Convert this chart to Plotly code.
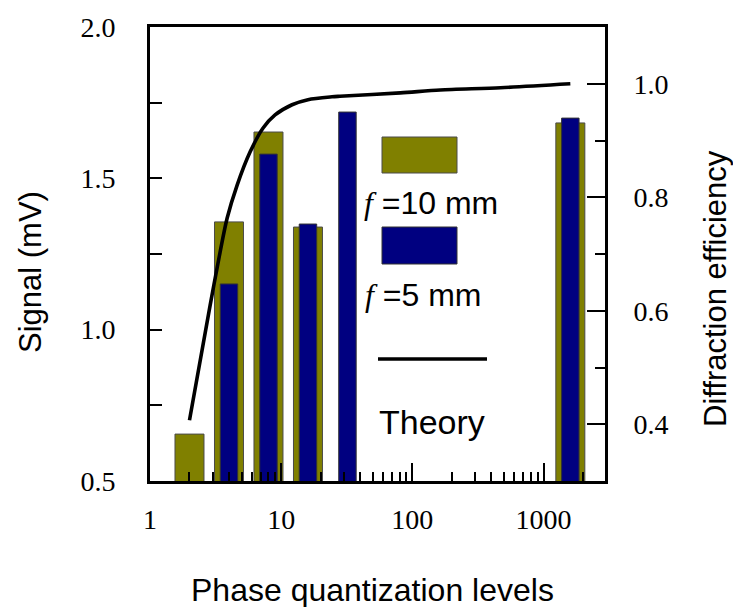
import numpy as np
import plotly.graph_objects as go

# ---------------- data ----------------
levels_10mm = [2, 4, 8, 16, 1600]
signal_10mm = [0.655, 1.356, 1.653, 1.339, 1.683]

levels_5mm = [4, 8, 16, 32, 1600]
signal_5mm = [1.151, 1.580, 1.349, 1.719, 1.699]

theory_levels = [2, 2.87, 3.42, 3.87, 4.61, 5.8, 7.28, 8.98, 12.1, 16, 24.4, 28, 81, 163, 470, 1600]
theory_eff = [0.407, 0.609, 0.703, 0.763, 0.821, 0.880, 0.922, 0.945, 0.963, 0.972, 0.977, 0.978,
              0.984, 0.989, 0.993, 1.000]

x_tickvals = [1, 10, 100, 1000]
x_ticktext = ["1", "10", "100", "1000"]
x_minor_vals = [m * 10 ** d for d in range(4) for m in range(2, 10)]
yl_tickvals = [0.5, 1.0, 1.5, 2.0]
yl_ticktext = ["0.5", "1.0", "1.5", "2.0"]
yl_minor_vals = [0.75, 1.25, 1.75]
yr_tickvals = [0.4, 0.6, 0.8, 1.0]
yr_ticktext = ["0.4", "0.6", "0.8", "1.0"]
yr_minor_vals = [0.5, 0.7, 0.9]

# ---------------- styling ----------------
OLIVE = "#808000"
NAVY = "#000080"
SERIF = "Liberation Serif"
SANS = "Liberation Sans"

# the page body adds an 8px offset; margins are chosen so the plot area lands at
# screen x 150..605 and y 27..481
OFF = 8
W, H = 741, 607
X0, X1, Y0, Y1 = 150, 605, 27, 481
L, R, T, B = X0 - OFF, (W + OFF) - X1, Y0 - OFF, (H + OFF) - Y1
PW, PH = X1 - X0, Y1 - Y0


def px(x):
    return (x - X0) / PW


def py(y):
    return (Y1 - y) / PH


def log_bar_geometry(levels, decades):
    """offset / width so that each bar spans a constant width in log space"""
    lv = np.asarray(levels, dtype=float)
    lo = lv * 10 ** (-decades / 2)
    hi = lv * 10 ** (decades / 2)
    return (lo - lv).tolist(), (hi - lo).tolist()


off10, wid10 = log_bar_geometry(levels_10mm, 0.221)
off5, wid5 = log_bar_geometry(levels_5mm, 0.133)

fig = go.Figure()
fig.add_trace(go.Bar(
    x=levels_10mm, y=signal_10mm, offset=off10, width=wid10,
    marker=dict(color=OLIVE, line=dict(color="#4a4a4a", width=1)),
    name="f = 10 mm"))
fig.add_trace(go.Bar(
    x=levels_5mm, y=signal_5mm, offset=off5, width=wid5,
    marker=dict(color=NAVY, line=dict(color="#333333", width=1)),
    name="f = 5 mm"))
fig.add_trace(go.Scatter(
    x=theory_levels, y=theory_eff, yaxis="y2", mode="lines",
    line=dict(color="black", width=3.6, shape="spline", smoothing=0.8),
    name="Theory"))

axis_common = dict(showgrid=False, zeroline=False, showline=True, linecolor="black",
                   linewidth=3, ticks="inside", tickcolor="black", tickwidth=2,
                   automargin=False,
                   tickfont=dict(family=SERIF, size=28, color="black"))

fig.update_layout(
    width=W, height=H,
    margin=dict(l=L, r=R, t=T, b=B, pad=0, autoexpand=False),
    paper_bgcolor="white", plot_bgcolor="white",
    showlegend=False, barmode="overlay",
    xaxis=dict(type="log", range=[0, np.log10(2940)], tickmode="array",
               tickvals=x_tickvals, ticktext=x_ticktext, ticklen=18, mirror=True,
               ticklabelstandoff=11,
               minor=dict(tickmode="array", tickvals=x_minor_vals, ticks="inside",
                          ticklen=9, tickwidth=2, tickcolor="black", showgrid=False),
               **axis_common),
    yaxis=dict(range=[0.5, 2.0], tickmode="array", tickvals=yl_tickvals,
               ticktext=yl_ticktext, ticklen=12, ticklabelstandoff=26,
               minor=dict(tickmode="array", tickvals=yl_minor_vals, ticks="inside",
                          ticklen=12, tickwidth=2, tickcolor="black", showgrid=False),
               **axis_common),
    yaxis2=dict(overlaying="y", side="right", range=[0.3, 1.1], tickmode="array",
                tickvals=yr_tickvals, ticktext=yr_ticktext, ticklen=18,
                ticklabelstandoff=20,
                minor=dict(tickmode="array", tickvals=yr_minor_vals, ticks="inside",
                           ticklen=10, tickwidth=2, tickcolor="black", showgrid=False),
                **axis_common),
)


def label(text, x, y, font, angle=0):
    fig.add_annotation(text=text, x=px(x), y=py(y), xref="paper", yref="paper",
                       xanchor="center", yanchor="middle", textangle=angle,
                       showarrow=False, font=font)


# axis titles
title_font = dict(family=SANS, size=31, color="black")
label("Signal (mV)", 30, 272, title_font, -90)
label("Diffraction efficiency", 715, 289, title_font, -90)
label("Phase quantization levels", 372, 590, dict(family=SANS, size=32, color="black"))

# custom legend
leg_font = dict(family=SANS, size=32, color="black")
fig.add_shape(type="rect", xref="paper", yref="paper", x0=px(382), x1=px(457),
              y0=py(173), y1=py(137), fillcolor=OLIVE, line=dict(color="#4a4a4a", width=1))
label("<span style=\"font-family:'Liberation Serif'\"><i>f</i></span> =10 mm", 431, 203, leg_font)
fig.add_shape(type="rect", xref="paper", yref="paper", x0=px(382), x1=px(457),
              y0=py(264), y1=py(227), fillcolor=NAVY, line=dict(color="#333333", width=1))
label("<span style=\"font-family:'Liberation Serif'\"><i>f</i></span> =5 mm", 423, 295, leg_font)
fig.add_shape(type="line", xref="paper", yref="paper", x0=px(378), x1=px(487),
              y0=py(359), y1=py(359), line=dict(color="black", width=3.5))
label("Theory", 432, 422, dict(family=SANS, size=34, color="black"))

fig.write_html("out.html")
